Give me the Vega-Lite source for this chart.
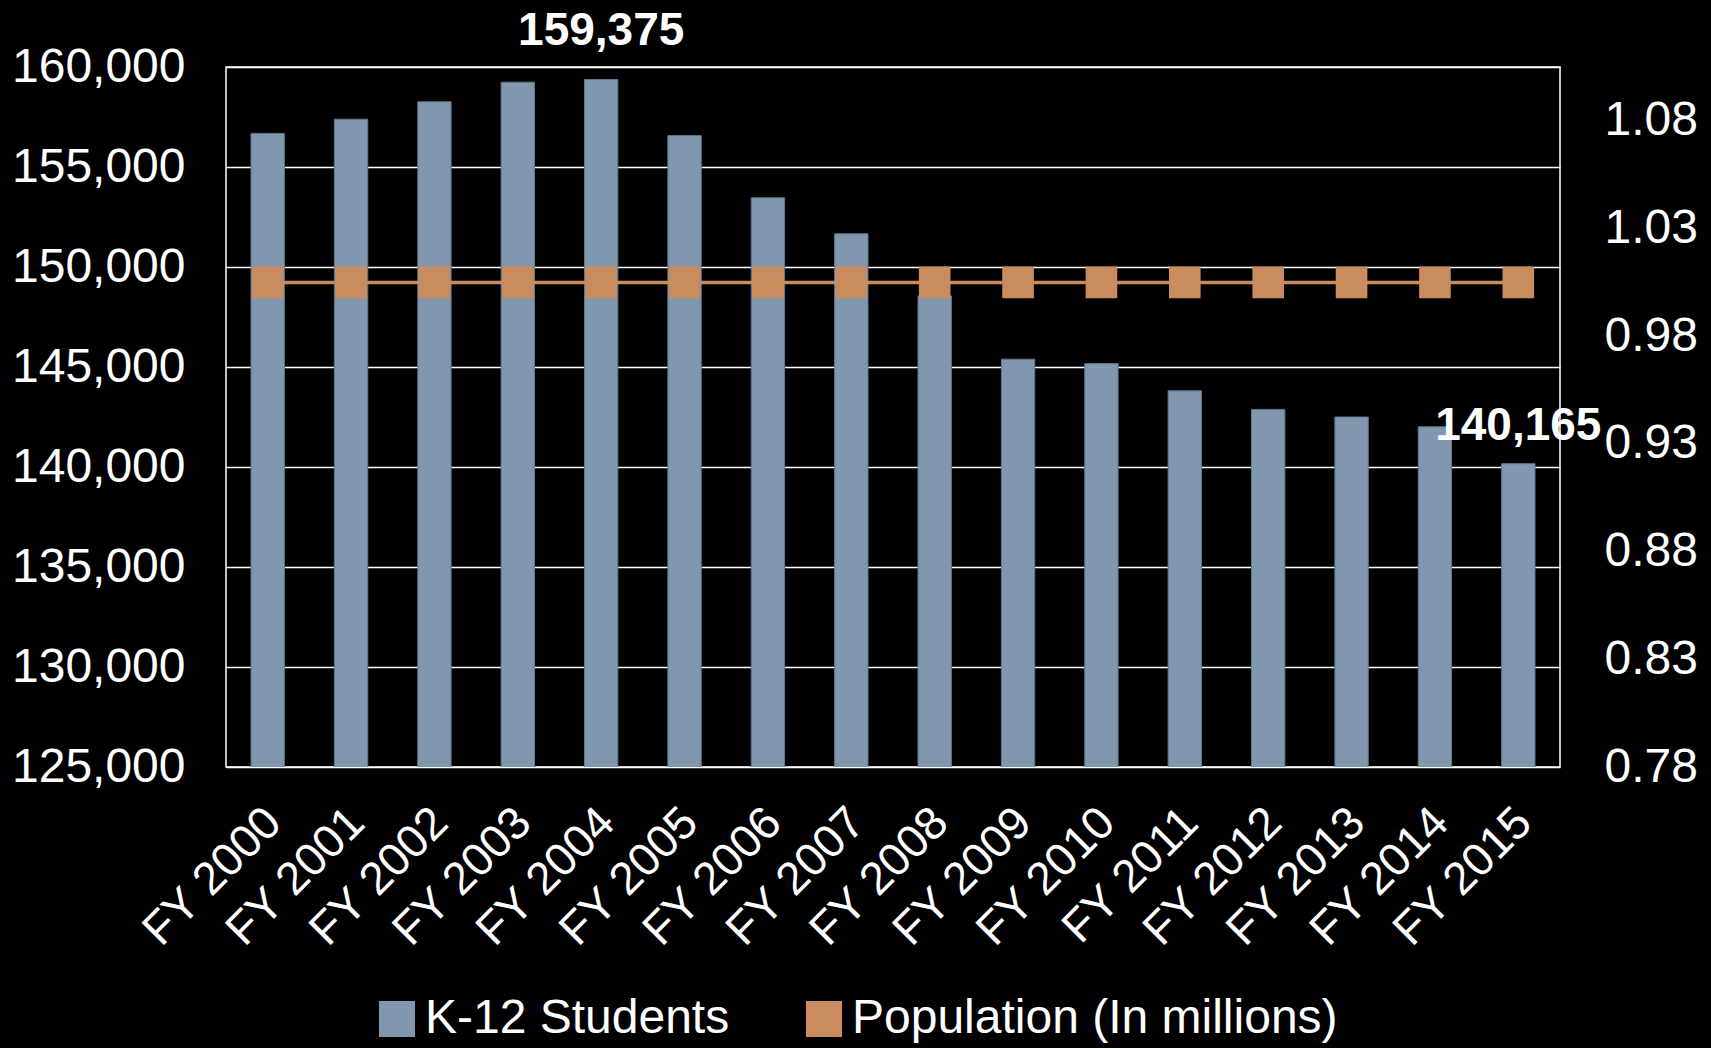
{
  "$schema": "https://vega.github.io/schema/vega-lite/v6.json",
  "width": 1334,
  "height": 700,
  "autosize": "none",
  "padding": {"left": 226, "top": 67, "right": 151, "bottom": 281},
  "background": "#000000",
  "config": {
    "view": {"stroke": "#ffffff", "strokeWidth": 1.5},
    "font": "Liberation Sans",
    "axis": {"labelColor": "#ffffff", "labelFont": "Liberation Sans", "labelFontSize": 48, "ticks": false, "domain": false, "gridColor": "#ffffff", "gridWidth": 1.5, "gridOpacity": 1, "title": null}
  },
  "data": {
    "values": [
      {"year": "FY 2000", "students": 156680, "population": 1.005},
      {"year": "FY 2001", "students": 157390, "population": 1.005},
      {"year": "FY 2002", "students": 158260, "population": 1.005},
      {"year": "FY 2003", "students": 159240, "population": 1.005},
      {"year": "FY 2004", "students": 159375, "population": 1.005},
      {"year": "FY 2005", "students": 156570, "population": 1.005},
      {"year": "FY 2006", "students": 153460, "population": 1.005},
      {"year": "FY 2007", "students": 151660, "population": 1.005},
      {"year": "FY 2008", "students": 148555, "population": 1.005},
      {"year": "FY 2009", "students": 145390, "population": 1.005},
      {"year": "FY 2010", "students": 145170, "population": 1.005},
      {"year": "FY 2011", "students": 143810, "population": 1.005},
      {"year": "FY 2012", "students": 142880, "population": 1.005},
      {"year": "FY 2013", "students": 142500, "population": 1.005},
      {"year": "FY 2014", "students": 142010, "population": 1.005},
      {"year": "FY 2015", "students": 140165, "population": 1.005}
    ]
  },
  "encoding": {
    "x": {
      "field": "year", "type": "ordinal",
      "scale": {"paddingInner": 0.6, "paddingOuter": 0.3},
      "axis": {"labelAngle": -45, "labelAlign": "right", "labelBaseline": "middle", "labelPadding": 48, "labelOffset": 6, "labelFontSize": 46, "grid": false}
    }
  },
  "layer": [
    {
      "layer": [
        {
          "mark": {"type": "bar", "clip": true, "stroke": "#5f7890", "strokeWidth": 1},
          "encoding": {
            "y": {"field": "students", "type": "quantitative", "scale": {"domain": [125000, 160000], "zero": false, "nice": false},
                  "axis": {"values": [125000, 130000, 135000, 140000, 145000, 150000, 155000, 160000], "format": ",.0f", "labelPadding": 41, "grid": true}},
            "color": {"datum": "K-12 Students", "type": "nominal",
                      "scale": {"domain": ["K-12 Students", "Population (In millions)"], "range": ["#8097ae", "#c98c5f"]},
                      "legend": {"orient": "none", "legendX": 147, "legendY": 928, "direction": "horizontal", "title": null,
                                 "labelColor": "#ffffff", "labelFontSize": 48, "labelFont": "Liberation Sans", "labelLimit": 0, "symbolType": "square", "symbolSize": 1300,
                                 "symbolStrokeWidth": 0, "columnPadding": 70, "labelOffset": 4}}
          }
        },
        {
          "transform": [{"filter": "datum.year == 'FY 2004'"}],
          "mark": {"type": "text", "baseline": "bottom", "dy": -25, "fontWeight": "bold", "fontSize": 46, "color": "#ffffff"},
          "encoding": {
            "y": {"field": "students", "type": "quantitative", "scale": {"domain": [125000, 160000], "zero": false, "nice": false},
                  "axis": {"values": [125000, 130000, 135000, 140000, 145000, 150000, 155000, 160000], "format": ",.0f", "labelPadding": 41, "grid": true}},
            "text": {"field": "students", "type": "quantitative", "format": ","}
          }
        },
        {
          "transform": [{"filter": "datum.year == 'FY 2015'"}],
          "mark": {"type": "text", "baseline": "bottom", "dy": -14, "fontWeight": "bold", "fontSize": 46, "color": "#ffffff"},
          "encoding": {
            "y": {"field": "students", "type": "quantitative", "scale": {"domain": [125000, 160000], "zero": false, "nice": false},
                  "axis": {"values": [125000, 130000, 135000, 140000, 145000, 150000, 155000, 160000], "format": ",.0f", "labelPadding": 41, "grid": true}},
            "text": {"field": "students", "type": "quantitative", "format": ","}
          }
        }
      ]
    },
    {
      "layer": [
        {
          "mark": {"type": "line", "strokeWidth": 3.5},
          "encoding": {
            "y": {"field": "population", "type": "quantitative", "scale": {"domain": [0.78, 1.105], "zero": false, "nice": false},
                  "axis": {"orient": "right", "values": [0.78, 0.83, 0.88, 0.93, 0.98, 1.03, 1.08], "format": ".2f", "labelPadding": 44, "grid": false}},
            "color": {"datum": "Population (In millions)", "type": "nominal"}
          }
        },
        {
          "mark": {"type": "point", "shape": "square", "filled": true, "size": 1000, "opacity": 1},
          "encoding": {
            "y": {"field": "population", "type": "quantitative", "scale": {"domain": [0.78, 1.105], "zero": false, "nice": false},
                  "axis": {"orient": "right", "values": [0.78, 0.83, 0.88, 0.93, 0.98, 1.03, 1.08], "format": ".2f", "labelPadding": 44, "grid": false}},
            "color": {"datum": "Population (In millions)", "type": "nominal"}
          }
        }
      ]
    }
  ],
  "resolve": {"scale": {"y": "independent"}}
}
